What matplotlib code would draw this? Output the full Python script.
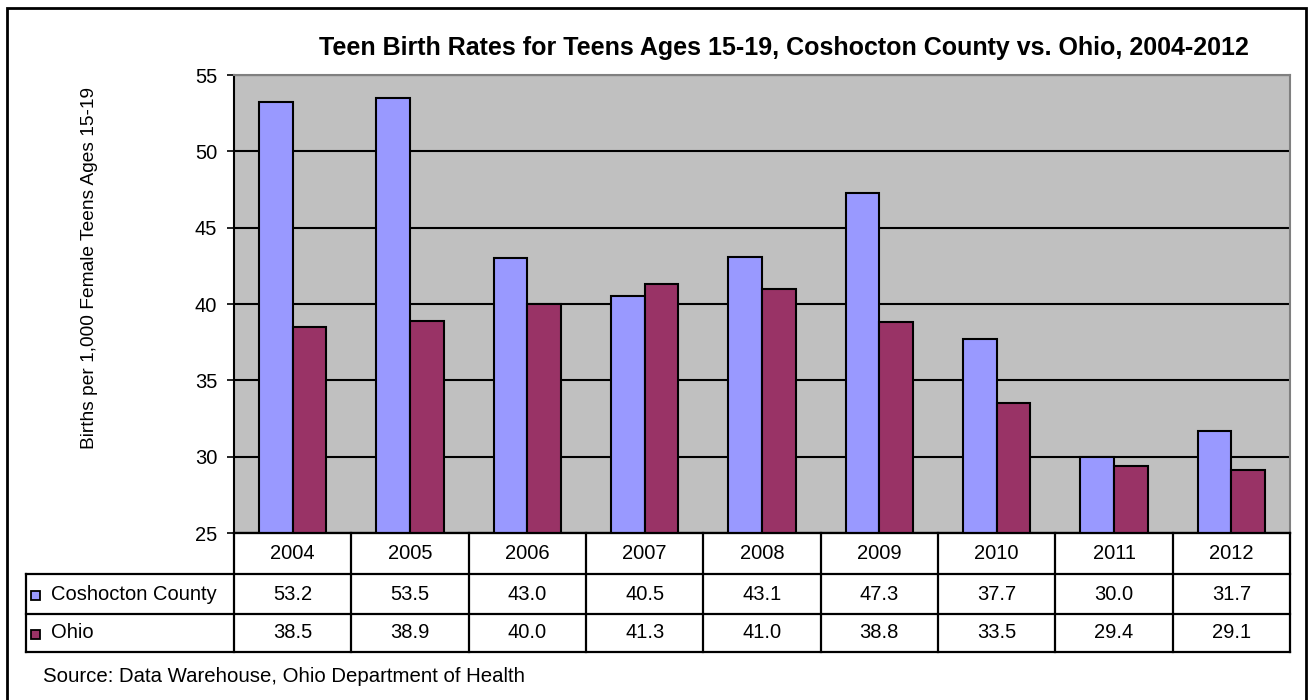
import numpy as np
import matplotlib.pyplot as plt
from matplotlib.patches import Rectangle
from matplotlib.lines import Line2D

plt.rcParams['font.family'] = ['Liberation Sans', 'DejaVu Sans']

years = ['2004', '2005', '2006', '2007', '2008', '2009', '2010', '2011', '2012']
county = [53.2, 53.5, 43.0, 40.5, 43.1, 47.3, 37.7, 30.0, 31.7]
ohio = [38.5, 38.9, 40.0, 41.3, 41.0, 38.8, 33.5, 29.4, 29.1]
series_names = ['Coshocton County', 'Ohio']
colors = ['#9999FF', '#993366']

W, H = 1311, 700
fig = plt.figure(figsize=(W / 100, H / 100), dpi=100)


def fx(px):
    return px / W


def fy(py):
    return 1 - py / H


# plot area in pixels
left, right, top, bottom = 234, 1290, 75, 533
ax = fig.add_axes([fx(left), fy(bottom), fx(right - left), (bottom - top) / H])
ax.set_facecolor('#C0C0C0')

x = np.arange(len(years))
w = 1 / 3.5
ax.bar(x - w / 2, county, w, color=colors[0], edgecolor='black', linewidth=1.5, zorder=3)
ax.bar(x + w / 2, ohio, w, color=colors[1], edgecolor='black', linewidth=1.5, zorder=3)

ax.set_xlim(-0.5, len(years) - 0.5)
ax.set_ylim(25, 55)
ax.set_yticks(range(25, 56, 5))
ax.yaxis.grid(True, color='black', linewidth=1.5, zorder=1)
ax.set_axisbelow(True)
ax.set_xticks([])
ax.tick_params(axis='y', labelsize=14.5, length=5, width=1.2, direction='out', pad=7)
for s in ['left', 'bottom']:
    ax.spines[s].set_color('black')
    ax.spines[s].set_linewidth(1.5)
for s in ['top', 'right']:
    ax.spines[s].set_color('#808080')
    ax.spines[s].set_linewidth(1.5)

fig.text(fx(90), fy(268), 'Births per 1,000 Female Teens Ages 15-19', rotation=90,
         ha='center', va='center', fontsize=13.8)

fig.text(fx(784), fy(48), 'Teen Birth Rates for Teens Ages 15-19, Coshocton County vs. Ohio, 2004-2012',
         ha='center', va='center', fontsize=18, fontweight='bold')

# data table below the plot
cat_w = (right - left) / len(years)
col_edges = [left + i * cat_w for i in range(len(years) + 1)]
row_edges = [bottom, 574, 614, 652]
tab_left = 26


def hline(x0, x1, y):
    fig.add_artist(Line2D([fx(x0), fx(x1)], [fy(y), fy(y)], color='black', lw=1.6))


def vline(x0, y0, y1):
    fig.add_artist(Line2D([fx(x0), fx(x0)], [fy(y0), fy(y1)], color='black', lw=1.6))


hline(left, right, row_edges[0])
hline(tab_left, right, row_edges[1])
hline(tab_left, right, row_edges[2])
hline(tab_left, right, row_edges[3])
vline(tab_left, row_edges[1], row_edges[3])
for ce in col_edges:
    vline(ce, row_edges[0], row_edges[3])

for i, yr in enumerate(years):
    cx = (col_edges[i] + col_edges[i + 1]) / 2
    fig.text(fx(cx), fy((row_edges[0] + row_edges[1]) / 2), yr,
             ha='center', va='center', fontsize=14.5)
    for r, vals in enumerate([county, ohio]):
        cy = (row_edges[r + 1] + row_edges[r + 2]) / 2
        fig.text(fx(cx), fy(cy), f'{vals[i]:.1f}', ha='center', va='center', fontsize=14.5)

for r, name in enumerate(series_names):
    cy = (row_edges[r + 1] + row_edges[r + 2]) / 2
    fig.add_artist(Rectangle((fx(31), fy(cy + 6)), fx(9), 9 / H,
                             facecolor=colors[r], edgecolor='black', lw=1.3))
    fig.text(fx(51), fy(cy), name, ha='left', va='center', fontsize=14.5)

fig.text(fx(43), fy(682), 'Source: Data Warehouse, Ohio Department of Health',
         ha='left', va='baseline', fontsize=14.7)

# outer border
fig.add_artist(Rectangle((fx(7), fy(720)), fx(1306 - 7), (720 - 8) / H,
                         facecolor='none', edgecolor='black', lw=2))

fig.savefig('out.png', dpi=100)
